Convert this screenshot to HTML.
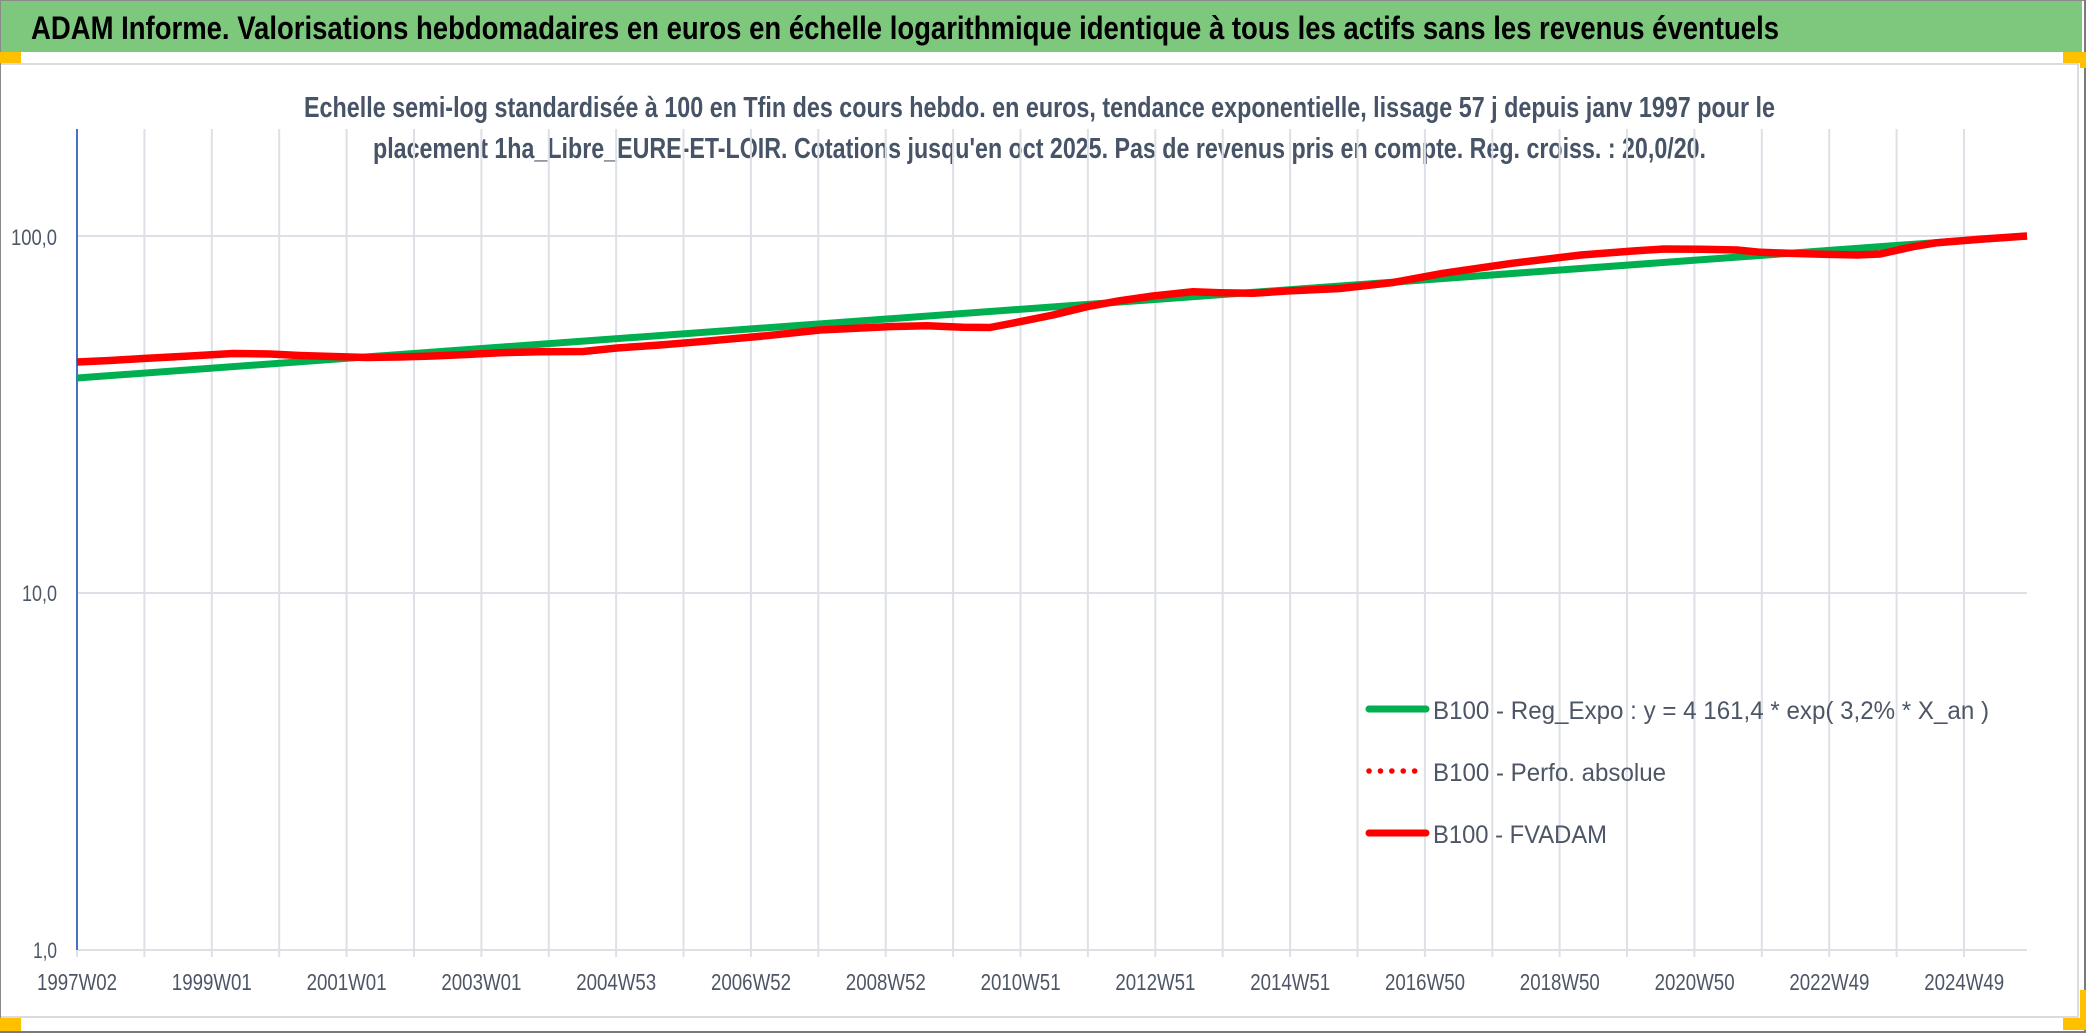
<!DOCTYPE html>
<html>
<head>
<meta charset="utf-8">
<style>
html,body{margin:0;padding:0;background:#fff;}
svg{display:block;}
text{font-family:"Liberation Sans",Arial,sans-serif;}
</style>
</head>
<body>
<svg width="2086" height="1033" viewBox="0 0 2086 1033" xmlns="http://www.w3.org/2000/svg">
  <rect x="0" y="0" width="2086" height="1033" fill="#ffffff"/>
  <!-- header -->
  <rect x="0" y="0" width="2082" height="52" fill="#7ec87e"/>
  <text x="31" y="39" font-size="32" font-weight="bold" fill="#000" textLength="1748" lengthAdjust="spacingAndGlyphs">ADAM Informe. Valorisations hebdomadaires en euros en échelle logarithmique identique à tous les actifs sans les revenus éventuels</text>

  <!-- chart area border -->
  <line x1="0" y1="64" x2="2079" y2="64" stroke="#d9dbe0" stroke-width="2"/>
  <line x1="2078" y1="64" x2="2078" y2="1017" stroke="#d9dbe0" stroke-width="2"/>
  <line x1="0" y1="1017" x2="2079" y2="1017" stroke="#d9dbe0" stroke-width="2"/>

  <!-- outer frame -->
  <rect x="0.5" y="0.5" width="2085" height="1032" fill="none" stroke="#8a8a8a" stroke-width="1"/>
  <line x1="2085" y1="0" x2="2085" y2="1033" stroke="#7a7a7a" stroke-width="2"/>
  <line x1="0" y1="1032" x2="2086" y2="1032" stroke="#7a7a7a" stroke-width="2"/>

  <!-- orange handles -->
  <rect x="0" y="52" width="21" height="11" fill="#ffc000"/>
  <rect x="2063" y="52" width="23" height="11" fill="#ffc000"/>
  <rect x="2080" y="63" width="6" height="5" fill="#ffc000"/>
  <rect x="0" y="1018" width="21" height="13" fill="#ffc000"/>
  <rect x="2063" y="1018" width="23" height="12" fill="#ffc000"/>
  <rect x="2080" y="990" width="6" height="28" fill="#ffc000"/>

  <!-- subtitle -->
  <text x="304" y="117" font-size="29" font-weight="bold" fill="#475467" textLength="1471" lengthAdjust="spacingAndGlyphs">Echelle semi-log standardisée à 100 en Tfin des cours hebdo. en euros, tendance exponentielle, lissage 57 j depuis janv 1997 pour le</text>
  <text x="373" y="158" font-size="29" font-weight="bold" fill="#475467" textLength="1333" lengthAdjust="spacingAndGlyphs">placement 1ha_Libre_EURE-ET-LOIR. Cotations jusqu'en oct 2025. Pas de revenus pris en compte. Reg. croiss. : 20,0/20.</text>

  <!-- gridlines -->
  <g stroke="#dde0e6" stroke-width="2">
    <line x1="77" y1="236" x2="2027" y2="236"/>
    <line x1="77" y1="593" x2="2027" y2="593"/>
    <line x1="77" y1="950" x2="2027" y2="950"/>
    <line x1="144.4" y1="129" x2="144.4" y2="957"/>
    <line x1="211.8" y1="129" x2="211.8" y2="957"/>
    <line x1="279.2" y1="129" x2="279.2" y2="957"/>
    <line x1="346.6" y1="129" x2="346.6" y2="957"/>
    <line x1="414.0" y1="129" x2="414.0" y2="957"/>
    <line x1="481.4" y1="129" x2="481.4" y2="957"/>
    <line x1="548.8" y1="129" x2="548.8" y2="957"/>
    <line x1="616.1" y1="129" x2="616.1" y2="957"/>
    <line x1="683.5" y1="129" x2="683.5" y2="957"/>
    <line x1="750.9" y1="129" x2="750.9" y2="957"/>
    <line x1="818.3" y1="129" x2="818.3" y2="957"/>
    <line x1="885.7" y1="129" x2="885.7" y2="957"/>
    <line x1="953.1" y1="129" x2="953.1" y2="957"/>
    <line x1="1020.5" y1="129" x2="1020.5" y2="957"/>
    <line x1="1087.9" y1="129" x2="1087.9" y2="957"/>
    <line x1="1155.3" y1="129" x2="1155.3" y2="957"/>
    <line x1="1222.7" y1="129" x2="1222.7" y2="957"/>
    <line x1="1290.1" y1="129" x2="1290.1" y2="957"/>
    <line x1="1357.5" y1="129" x2="1357.5" y2="957"/>
    <line x1="1424.9" y1="129" x2="1424.9" y2="957"/>
    <line x1="1492.3" y1="129" x2="1492.3" y2="957"/>
    <line x1="1559.6" y1="129" x2="1559.6" y2="957"/>
    <line x1="1627.0" y1="129" x2="1627.0" y2="957"/>
    <line x1="1694.4" y1="129" x2="1694.4" y2="957"/>
    <line x1="1761.8" y1="129" x2="1761.8" y2="957"/>
    <line x1="1829.2" y1="129" x2="1829.2" y2="957"/>
    <line x1="1896.6" y1="129" x2="1896.6" y2="957"/>
    <line x1="1964.0" y1="129" x2="1964.0" y2="957"/>
    <line x1="77" y1="950" x2="77" y2="957"/>
  </g>
  <!-- y axis -->
  <line x1="77" y1="129" x2="77" y2="950" stroke="#4472c4" stroke-width="2"/>

  <!-- y labels -->
  <g font-size="22" fill="#4d5666" text-anchor="end">
    <text x="57" y="245" textLength="46" lengthAdjust="spacingAndGlyphs">100,0</text>
    <text x="57" y="601" textLength="35" lengthAdjust="spacingAndGlyphs">10,0</text>
    <text x="57" y="958" textLength="24" lengthAdjust="spacingAndGlyphs">1,0</text>
  </g>

  <!-- x labels -->
  <g font-size="23" fill="#4d5666">
    <text x="37" y="990" textLength="80" lengthAdjust="spacingAndGlyphs">1997W02</text>
    <text x="171.8" y="990" textLength="80" lengthAdjust="spacingAndGlyphs">1999W01</text>
    <text x="306.6" y="990" textLength="80" lengthAdjust="spacingAndGlyphs">2001W01</text>
    <text x="441.4" y="990" textLength="80" lengthAdjust="spacingAndGlyphs">2003W01</text>
    <text x="576.2" y="990" textLength="80" lengthAdjust="spacingAndGlyphs">2004W53</text>
    <text x="711" y="990" textLength="80" lengthAdjust="spacingAndGlyphs">2006W52</text>
    <text x="845.8" y="990" textLength="80" lengthAdjust="spacingAndGlyphs">2008W52</text>
    <text x="980.6" y="990" textLength="80" lengthAdjust="spacingAndGlyphs">2010W51</text>
    <text x="1115.4" y="990" textLength="80" lengthAdjust="spacingAndGlyphs">2012W51</text>
    <text x="1250.2" y="990" textLength="80" lengthAdjust="spacingAndGlyphs">2014W51</text>
    <text x="1385" y="990" textLength="80" lengthAdjust="spacingAndGlyphs">2016W50</text>
    <text x="1519.8" y="990" textLength="80" lengthAdjust="spacingAndGlyphs">2018W50</text>
    <text x="1654.6" y="990" textLength="80" lengthAdjust="spacingAndGlyphs">2020W50</text>
    <text x="1789.4" y="990" textLength="80" lengthAdjust="spacingAndGlyphs">2022W49</text>
    <text x="1924.2" y="990" textLength="80" lengthAdjust="spacingAndGlyphs">2024W49</text>
  </g>

  <!-- series: green regression -->
  <line x1="77" y1="378" x2="2027" y2="236" stroke="#00b050" stroke-width="7" stroke-linecap="butt"/>
  <!-- series: red FVADAM -->
  <polyline fill="none" stroke="#ff0000" stroke-width="7.5" stroke-linejoin="round" stroke-linecap="butt"
    points="77,362 110,360.5 143,358.5 190,356 233,353.5 270,354 300,355.5 333,356.5 367,357.5 400,357 433,356 467,354.5 500,352.7 540,351.7 583,351.5 617,348 660,345 700,341.7 767,335.7 820,330 887,326.7 927,325.7 963,327.3 990,327.5 1020,321.7 1053,315 1087,306.7 1120,300.7 1153,296 1193,291.7 1220,292.7 1253,293.3 1287,291 1340,288.5 1392,282.7 1443,273.3 1512,263.3 1581,255 1633,251 1664,249 1702,249.3 1737,250 1761,252.3 1788,253.3 1823,254.3 1857,255 1880,254 1913,246.7 1937,242.7 1980,239.3 2027,236"/>

  <!-- legend -->
  <line x1="1369" y1="709" x2="1426" y2="709" stroke="#00b050" stroke-width="7" stroke-linecap="round"/>
  <line x1="1369" y1="771" x2="1426" y2="771" stroke="#ff0000" stroke-width="5.5" stroke-linecap="round" stroke-dasharray="0.1 11.3"/>
  <line x1="1369" y1="833" x2="1426" y2="833" stroke="#ff0000" stroke-width="7" stroke-linecap="round"/>
  <g font-size="25" fill="#4d5666">
    <text x="1433" y="719" textLength="556" lengthAdjust="spacingAndGlyphs">B100 - Reg_Expo : y = 4 161,4 * exp( 3,2% *  X_an )</text>
    <text x="1433" y="781" textLength="233" lengthAdjust="spacingAndGlyphs">B100 - Perfo. absolue</text>
    <text x="1433" y="843" textLength="174" lengthAdjust="spacingAndGlyphs">B100 - FVADAM</text>
  </g>
</svg>
</body>
</html>
